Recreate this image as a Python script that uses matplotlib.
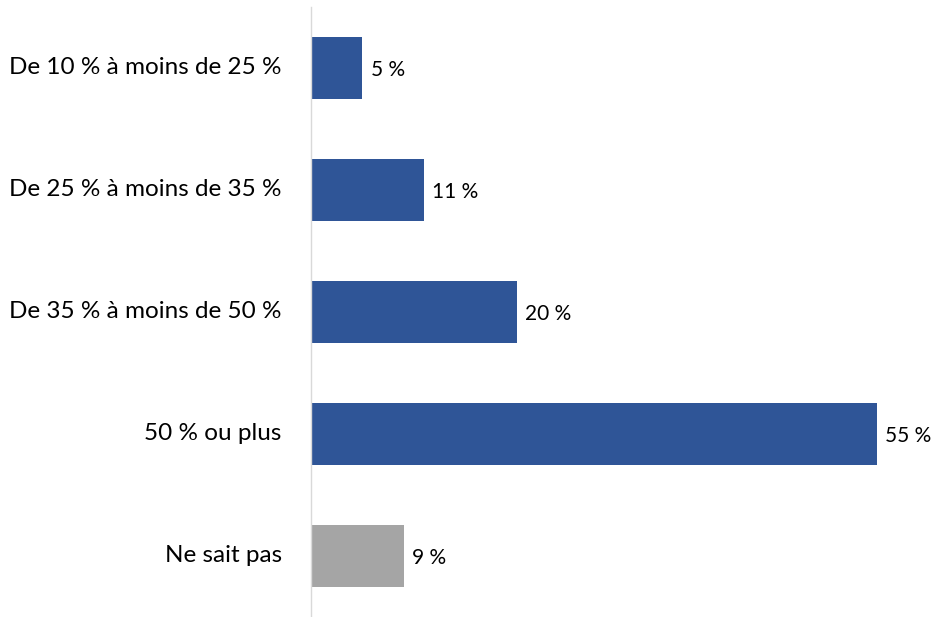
import matplotlib.pyplot as plt
import matplotlib.transforms as mtransforms

categories = ['De 10 % à moins de 25 %', 'De 25 % à moins de 35 %',
              'De 35 % à moins de 50 %', '50 % ou plus', 'Ne sait pas']
values = [5, 11, 20, 55, 9]
value_labels = ['5 %', '11 %', '20 %', '55 %', '9 %']
colors = ['#2F5597', '#2F5597', '#2F5597', '#2F5597', '#A5A5A5']

plt.rcParams['font.family'] = ['Lato', 'DejaVu Sans']

fig = plt.figure(figsize=(9.37, 6.17), dpi=100)
ax = fig.add_axes([311 / 937, 0.0, 617 / 937, 1 - 7 / 617])

y = list(range(len(categories)))
ax.barh(y, values, height=0.505, color=colors)
ax.set_ylim(len(categories) - 0.5, -0.5)
ax.set_xlim(0, 60)

for yi, v, lab in zip(y, values, value_labels):
    ax.text(v + 0.8, yi + 0.02, lab, va='center', ha='left', fontsize=15, color='#000000')

ax.set_yticks(y)
ax.set_yticklabels(categories, fontsize=17.5)
# nudge the category labels a couple of pixels down
shift = mtransforms.ScaledTranslation(0, -2.5 / 100, fig.dpi_scale_trans)
for t in ax.get_yticklabels():
    t.set_va('center')
    t.set_transform(t.get_transform() + shift)
ax.tick_params(axis='y', length=0, pad=21)
ax.set_xticks([])
for s in ['top', 'right', 'bottom']:
    ax.spines[s].set_visible(False)
ax.spines['left'].set_color('#D9D9D9')
ax.spines['left'].set_linewidth(1)

fig.savefig('out.png', dpi=100)
